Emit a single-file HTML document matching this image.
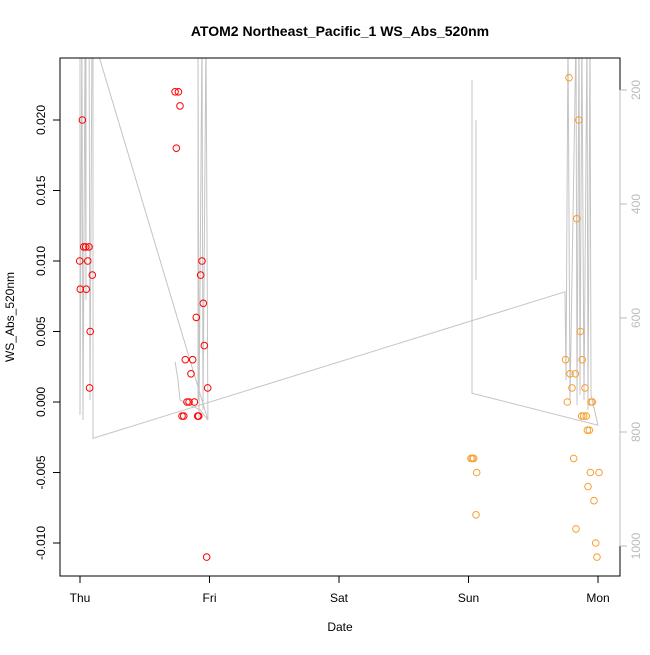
<!DOCTYPE html>
<html><head><meta charset="utf-8"><style>
body{margin:0;background:#fff}
svg text{font-family:"Liberation Sans",sans-serif}
</style></head><body>
<svg id="chart" width="650" height="650" xmlns="http://www.w3.org/2000/svg">
<defs><clipPath id="clip"><rect x="60" y="58" width="560" height="518"/></clipPath></defs>
<text x="340" y="36" text-anchor="middle" font-size="14" font-weight="bold">ATOM2 Northeast_Pacific_1 WS_Abs_520nm</text>
<text x="340" y="631" text-anchor="middle" font-size="12">Date</text>
<text transform="translate(14,317) rotate(-90)" text-anchor="middle" font-size="12">WS_Abs_520nm</text>
<g id="depth" clip-path="url(#clip)"></g>
<g id="pts"></g>
<rect x="60" y="58" width="560" height="518" fill="none" stroke="#000"/>
<g id="axes"></g>
</svg>
<script>
const dayLabels=["Thu","Fri","Sat","Sun","Mon"];
const yTicks=[-0.010,-0.005,0.000,0.005,0.010,0.015,0.020];
const yTickLabels=["-0.010","-0.005","0.000","0.005","0.010","0.015","0.020"];
const depthTicks=[200,400,600,800,1000];
const redT=[0.018,0.029,0.044,0.069,-0.002,0.060,0.095,0.002,0.048,0.079,0.074,0.734,0.760,0.772,0.744,0.942,0.932,0.952,0.898,0.960,0.813,0.870,0.857,0.986,0.826,0.842,0.883,0.788,0.801,0.909,0.917,0.978];
const redV=[0.020,0.011,0.011,0.011,0.010,0.010,0.009,0.008,0.008,0.005,0.001,0.022,0.022,0.021,0.018,0.010,0.009,0.007,0.006,0.004,0.003,0.003,0.002,0.001,0.000,0.000,0.000,-0.001,-0.001,-0.001,-0.001,-0.011];
const orT=[3.776,3.851,3.836,3.864,3.750,3.878,3.784,3.825,3.799,3.900,3.763,3.946,3.956,3.874,3.889,3.909,3.918,3.933,3.019,3.029,3.040,3.812,3.063,3.941,4.008,3.923,3.969,3.058,3.830,3.982,3.992];
const orV=[0.023,0.020,0.013,0.005,0.003,0.003,0.002,0.002,0.001,0.001,0.000,0.000,0.000,-0.001,-0.001,-0.001,-0.002,-0.002,-0.004,-0.004,-0.004,-0.004,-0.005,-0.005,-0.005,-0.006,-0.007,-0.008,-0.009,-0.010,-0.011];
const depthT=[0,0,0.015,0.023,0.039,0.046,0.046,0.07,0.077,0.093,0.988,0.973,0.95,0.942,0.919,0.911,0.911,null,0.734,0.757,0.772,0.849,0.927,0.988,null,0.1,0.1,3.745,3.753,3.768,3.784,3.830,3.838,3.853,3.861,3.876,3.892,3.915,3.923,3.938,3.946,4.0,3.027,3.027,null,3.058,3.058];
const depthV=[100,770,100,779,100,568,100,100,744,100,779,100,761,100,779,100,744,null,677,709,744,753,761,779,null,100,811,554,709,100,744,100,753,100,735,100,744,100,761,100,735,788,732,182,null,253,533];
const X=t=>80+129.5*t, Y=v=>402-v*14100, YD=d=>90+(d-200)*0.57;
const NS="http://www.w3.org/2000/svg";
function mk(tag,at,parent){const e=document.createElementNS(NS,tag);for(const k in at)e.setAttribute(k,at[k]);parent.appendChild(e);return e;}
const ax=document.getElementById('axes');
let segs=[],cur=[];
depthT.forEach((t,i)=>{if(t===null){segs.push(cur);cur=[];}else cur.push(X(t).toFixed(1)+","+YD(depthV[i]).toFixed(1));});
segs.push(cur);
segs.forEach(s=>{const p=mk('polyline',{points:s.join(' '),fill:'none',stroke:'#c4c4c4','stroke-width':1},document.getElementById('depth'));

});
const pg=document.getElementById('pts');
redT.forEach((t,i)=>{const c=mk('circle',{cx:X(t),cy:Y(redV[i]),r:3.3,fill:'none',stroke:'#ff0000','stroke-width':1},pg);

});
orT.forEach((t,i)=>{const c=mk('circle',{cx:X(t),cy:Y(orV[i]),r:3.3,fill:'none',stroke:'#f5a030','stroke-width':1},pg);

});
mk('line',{x1:X(0),x2:X(4),y1:576,y2:576,stroke:'#000'},ax);
dayLabels.forEach((d,i)=>{mk('line',{x1:X(i),x2:X(i),y1:576,y2:583,stroke:'#000'},ax);
const t=mk('text',{x:X(i),y:602,'text-anchor':'middle','font-size':12},ax);t.textContent=d;

});
mk('line',{x1:60,x2:60,y1:Y(-0.010),y2:Y(0.020),stroke:'#000'},ax);
yTicks.forEach((v,i)=>{mk('line',{x1:53,x2:60,y1:Y(v),y2:Y(v),stroke:'#000'},ax);
const t=mk('text',{transform:`translate(45,${Y(v)}) rotate(-90)`,'text-anchor':'middle','font-size':12},ax);t.textContent=yTickLabels[i];

});
mk('line',{x1:620,x2:620,y1:YD(200),y2:YD(1000),stroke:'#bbb'},ax);
depthTicks.forEach(d=>{mk('line',{x1:620,x2:627,y1:YD(d),y2:YD(d),stroke:'#bbb'},ax);
const t=mk('text',{transform:`translate(640,${YD(d)}) rotate(-90)`,'text-anchor':'middle','font-size':12,fill:'#bbb'},ax);t.textContent=d;

});
</script>
</body></html>
